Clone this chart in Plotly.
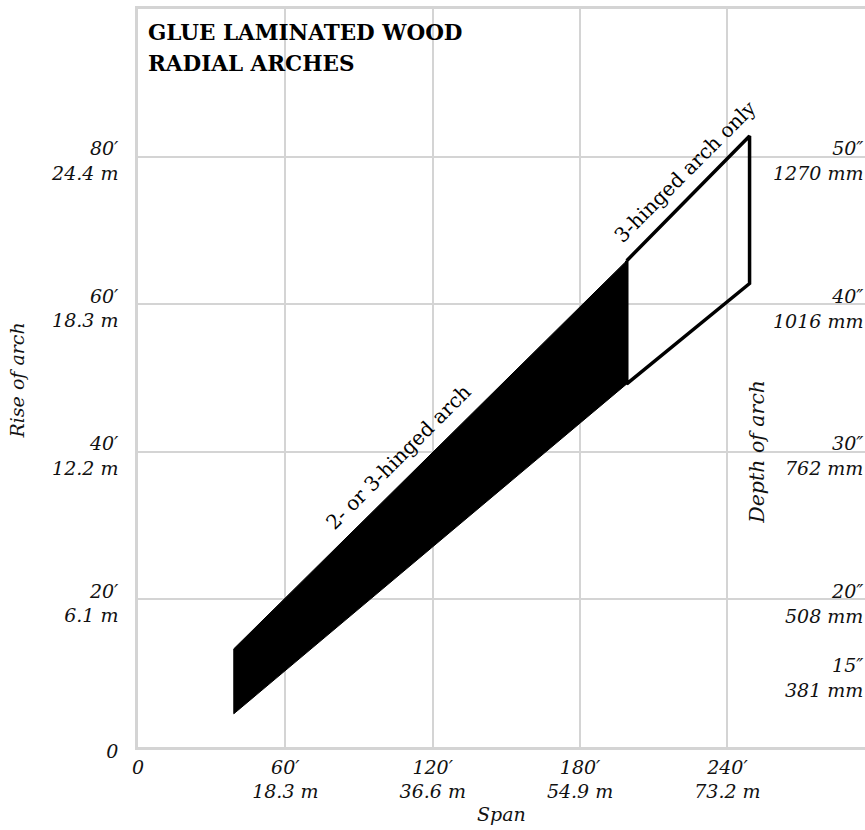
import plotly.graph_objects as go

# ---- data ----
span_pts = [39, 199, 249]          # span (ft): start, 2/3-hinged limit, 3-hinged limit
rise_upper = [13.3, 65.9, 82.8]    # upper edge of band (ft)
rise_lower = [4.5, 49.2, 62.8]     # lower edge of band (ft)

x_ticks = [0, 60, 120, 180, 240]
x_ticktext = ["0", "60′<br>18.3 m", "120′<br>36.6 m", "180′<br>54.9 m", "240′<br>73.2 m"]
y_ticks = [0, 20, 40, 60, 80]
y_ticktext = ["0", "20′<br>6.1 m", "40′<br>12.2 m", "60′<br>18.3 m", "80′<br>24.4 m"]
depth_ticks = [15, 20, 30, 40, 50]
depth_ticktext = ["15″<br>381 mm", "20″<br>508 mm", "30″<br>762 mm", "40″<br>1016 mm", "50″<br>1270 mm"]

FONT = "DejaVu Serif"
GRID = "#d4d4d4"

fig = go.Figure()

# 2- or 3-hinged arch: filled band
fig.add_trace(go.Scatter(
    x=[span_pts[0], span_pts[0], span_pts[1], span_pts[1], span_pts[0]],
    y=[rise_lower[0], rise_upper[0], rise_upper[1], rise_lower[1], rise_lower[0]],
    fill="toself", fillcolor="black", mode="lines",
    line=dict(color="black", width=1), hoverinfo="skip", showlegend=False))

# 3-hinged arch only: outlined band
fig.add_trace(go.Scatter(
    x=[span_pts[1], span_pts[2], span_pts[2], span_pts[1], span_pts[1]],
    y=[rise_upper[1], rise_upper[2], rise_lower[2], rise_lower[1], rise_upper[1]],
    mode="lines", line=dict(color="black", width=3.5),
    hoverinfo="skip", showlegend=False))

# invisible trace for depth axis
fig.add_trace(go.Scatter(x=[None], y=[None], yaxis="y2", showlegend=False))

tickfont = dict(family=FONT, size=19, color="#111", style="italic")

fig.update_layout(
    width=865, height=830,
    margin=dict(l=138, r=0, t=9, b=83),
    paper_bgcolor="white", plot_bgcolor="white",
    xaxis=dict(range=[0, 296], tickvals=x_ticks, ticktext=x_ticktext,
               showgrid=True, gridcolor=GRID, gridwidth=1.5,
               showline=True, linecolor=GRID, linewidth=2.5, mirror=True,
               ticks="", tickfont=tickfont, zeroline=False, ticklabelstandoff=1),
    yaxis=dict(range=[0, 100], tickvals=y_ticks, ticktext=y_ticktext,
               showgrid=True, gridcolor=GRID, gridwidth=1.5,
               showline=True, linecolor=GRID, linewidth=2.5,
               ticks="", tickfont=tickfont, zeroline=False,
               ticklabelstandoff=13, ticklabelshift=4),
    yaxis2=dict(range=[10, 60], overlaying="y", side="right", anchor="x",
                showgrid=False, showline=False, zeroline=False, ticks="",
                showticklabels=False),
)

ann = []
ann.append(dict(text="<b>GLUE LAMINATED WOOD</b>", xref="paper", yref="paper",
                x=0, y=1, xanchor="left", yanchor="top", xshift=8, yshift=-9,
                showarrow=False, font=dict(family=FONT, size=21.5, color="black")))
ann.append(dict(text="<b>RADIAL ARCHES</b>", xref="paper", yref="paper",
                x=0, y=1, xanchor="left", yanchor="top", xshift=8, yshift=-40,
                showarrow=False, font=dict(family=FONT, size=21.5, color="black")))
ann.append(dict(text="2- or 3-hinged arch", x=106, y=39.3, textangle=-45,
                showarrow=False, font=dict(family=FONT, size=20, color="black")))
ann.append(dict(text="3-hinged arch only", x=223, y=78, textangle=-45,
                showarrow=False, font=dict(family=FONT, size=20, color="black")))
ann.append(dict(text="Depth of arch", x=252, y=40, textangle=-90,
                showarrow=False, font=dict(tickfont, size=20.5)))
ann.append(dict(text="Rise of arch", xref="paper", x=-0.166, y=49.7, textangle=-90,
                xanchor="center", yanchor="middle", showarrow=False, font=tickfont))
ann.append(dict(text="Span", xref="paper", yref="paper", x=0.5, y=-0.091,
                xanchor="center", yanchor="middle", showarrow=False, font=tickfont))
for d, t in zip(depth_ticks, depth_ticktext):
    ann.append(dict(text=t, xref="paper", yref="y2", x=1, y=d, xanchor="right",
                    yanchor="middle", align="right", xshift=0, yshift=-4,
                    showarrow=False, font=tickfont))
fig.update_layout(annotations=ann)

fig.write_html("out.html", config={"displayModeBar": False},
               post_script="document.body.style.margin='0';")
